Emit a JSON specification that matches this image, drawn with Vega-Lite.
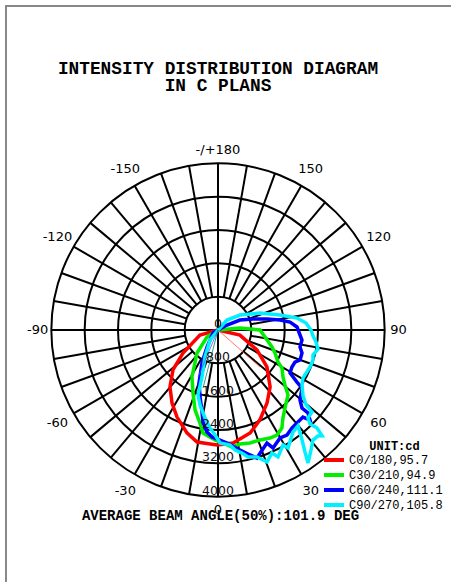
{
 "$schema": "https://vega.github.io/schema/vega-lite/v6.json",
 "width": 451, "height": 582,
 "autosize": {"type": "none"},
 "padding": {"left": 6, "top": 6, "right": 0, "bottom": 0},
 "background": "white",
 "config": {
  "view": {"stroke": "#888888", "strokeWidth": 2},
  "axis": {"domain": false, "ticks": false, "labels": false, "grid": false},
  "axisX": {"titleX": 214, "titleY": -68.5, "titleAlign": "center", "titleBaseline": "alphabetic", "titleFont": "Liberation Mono", "titleFontSize": 14, "titleFontWeight": "bold", "titleColor": "black", "titlePadding": 0},
  "axisY": {"titleX": 388, "titleY": 439, "titleAngle": 0, "titleAlign": "center", "titleBaseline": "middle", "titleFont": "Liberation Mono", "titleFontSize": 12, "titleFontWeight": "bold", "titleColor": "black", "titlePadding": 0}
 },
 "title": {"text": ["INTENSITY DISTRIBUTION DIAGRAM", "IN C PLANS"], "font": "Liberation Mono", "fontSize": 17.8, "fontWeight": "bold", "color": "black", "anchor": "middle", "dx": -13.5, "offset": -103, "lineHeight": 17, "baseline": "alphabetic"},
 "datasets": {
  "rings": [{"v": 0}, {"v": 800}, {"v": 1600}, {"v": 2400}, {"v": 3200}, {"v": 4000}],
  "spokes": [{"a": -170}, {"a": -160}, {"a": -150}, {"a": -140}, {"a": -130}, {"a": -120}, {"a": -110}, {"a": -100}, {"a": -90}, {"a": -80}, {"a": -70}, {"a": -60}, {"a": -50}, {"a": -40}, {"a": -30}, {"a": -20}, {"a": -10}, {"a": 0}, {"a": 10}, {"a": 20}, {"a": 30}, {"a": 40}, {"a": 50}, {"a": 60}, {"a": 70}, {"a": 80}, {"a": 90}, {"a": 100}, {"a": 110}, {"a": 120}, {"a": 130}, {"a": 140}, {"a": 150}, {"a": 160}, {"a": 170}, {"a": 180}],
  "cross": [{"a": 0}, {"a": 90}],
  "alabels": [{"t": "-/+180", "a": 180}, {"t": "150", "a": 150}, {"t": "120", "a": 120}, {"t": "90", "a": 90}, {"t": "60", "a": 60}, {"t": "30", "a": 30}, {"t": "0", "a": 0}, {"t": "-30", "a": -30}, {"t": "-60", "a": -60}, {"t": "-90", "a": -90}, {"t": "-120", "a": -120}, {"t": "-150", "a": -150}],
  "thin": [
   {"t": "tr", "i": 0, "g": 48.6, "cd": 0}, {"t": "tr", "i": 1, "g": 48.6, "cd": 1344},
   {"t": "tb", "i": 0, "g": -23, "cd": 0}, {"t": "tb", "i": 1, "g": -23, "cd": 1227},
   {"t": "tt", "i": 0, "g": -14.5, "cd": 0}, {"t": "tt", "i": 1, "g": -14.5, "cd": 1437}
  ],
  "curves": [
   {"p": "C0/180,95.7", "i": 0, "g": -80, "cd": 0},
   {"p": "C0/180,95.7", "i": 1, "g": -74.5, "cd": 450},
   {"p": "C0/180,95.7", "i": 2, "g": -56.7, "cd": 1005},
   {"p": "C0/180,95.7", "i": 3, "g": -48.4, "cd": 1445},
   {"p": "C0/180,95.7", "i": 4, "g": -40.1, "cd": 1790},
   {"p": "C0/180,95.7", "i": 5, "g": -32.2, "cd": 2070},
   {"p": "C0/180,95.7", "i": 6, "g": -25.2, "cd": 2310},
   {"p": "C0/180,95.7", "i": 7, "g": -16.8, "cd": 2580},
   {"p": "C0/180,95.7", "i": 8, "g": -10.6, "cd": 2735},
   {"p": "C0/180,95.7", "i": 9, "g": -0.5, "cd": 2760},
   {"p": "C0/180,95.7", "i": 10, "g": 7.6, "cd": 2735},
   {"p": "C0/180,95.7", "i": 11, "g": 17.3, "cd": 2590},
   {"p": "C0/180,95.7", "i": 12, "g": 25, "cd": 2380},
   {"p": "C0/180,95.7", "i": 13, "g": 33.9, "cd": 2110},
   {"p": "C0/180,95.7", "i": 14, "g": 42.4, "cd": 1855},
   {"p": "C0/180,95.7", "i": 15, "g": 53, "cd": 1470},
   {"p": "C0/180,95.7", "i": 16, "g": 62.9, "cd": 1050},
   {"p": "C0/180,95.7", "i": 17, "g": 77, "cd": 540},
   {"p": "C0/180,95.7", "i": 18, "g": 85, "cd": 0},
   {"p": "C30/210,94.9", "i": 0, "g": -60, "cd": 0},
   {"p": "C30/210,94.9", "i": 1, "g": -57.5, "cd": 313},
   {"p": "C30/210,94.9", "i": 2, "g": -42.4, "cd": 747},
   {"p": "C30/210,94.9", "i": 3, "g": -29.0, "cd": 1289},
   {"p": "C30/210,94.9", "i": 4, "g": -21.6, "cd": 1627},
   {"p": "C30/210,94.9", "i": 5, "g": -16.0, "cd": 1997},
   {"p": "C30/210,94.9", "i": 6, "g": -11.0, "cd": 2273},
   {"p": "C30/210,94.9", "i": 7, "g": -8.3, "cd": 2498},
   {"p": "C30/210,94.9", "i": 8, "g": -1.6, "cd": 2640},
   {"p": "C30/210,94.9", "i": 9, "g": 2.5, "cd": 2715},
   {"p": "C30/210,94.9", "i": 10, "g": 6.8, "cd": 2828},
   {"p": "C30/210,94.9", "i": 11, "g": 10.9, "cd": 2786},
   {"p": "C30/210,94.9", "i": 12, "g": 15.8, "cd": 2818},
   {"p": "C30/210,94.9", "i": 13, "g": 20.9, "cd": 2826},
   {"p": "C30/210,94.9", "i": 14, "g": 25.7, "cd": 2877},
   {"p": "C30/210,94.9", "i": 15, "g": 29.3, "cd": 2890},
   {"p": "C30/210,94.9", "i": 16, "g": 33.1, "cd": 2808},
   {"p": "C30/210,94.9", "i": 17, "g": 36.4, "cd": 2626},
   {"p": "C30/210,94.9", "i": 18, "g": 40.7, "cd": 2467},
   {"p": "C30/210,94.9", "i": 19, "g": 47.1, "cd": 2293},
   {"p": "C30/210,94.9", "i": 20, "g": 50.6, "cd": 2081},
   {"p": "C30/210,94.9", "i": 21, "g": 54.1, "cd": 1925},
   {"p": "C30/210,94.9", "i": 22, "g": 59.3, "cd": 1786},
   {"p": "C30/210,94.9", "i": 23, "g": 61.9, "cd": 1632},
   {"p": "C30/210,94.9", "i": 24, "g": 68.0, "cd": 1475},
   {"p": "C30/210,94.9", "i": 25, "g": 72.5, "cd": 1358},
   {"p": "C30/210,94.9", "i": 26, "g": 81.5, "cd": 1140},
   {"p": "C30/210,94.9", "i": 27, "g": 90, "cd": 1008},
   {"p": "C30/210,94.9", "i": 28, "g": 95.2, "cd": 530},
   {"p": "C30/210,94.9", "i": 29, "g": 100, "cd": 0},
   {"p": "C60/240,111.1", "i": 0, "g": -60, "cd": 0},
   {"p": "C60/240,111.1", "i": 1, "g": -59, "cd": 140},
   {"p": "C60/240,111.1", "i": 2, "g": -32.9, "cd": 486},
   {"p": "C60/240,111.1", "i": 3, "g": -25.9, "cd": 880},
   {"p": "C60/240,111.1", "i": 4, "g": -19.7, "cd": 1351},
   {"p": "C60/240,111.1", "i": 5, "g": -15.0, "cd": 1665},
   {"p": "C60/240,111.1", "i": 6, "g": -11.0, "cd": 2005},
   {"p": "C60/240,111.1", "i": 7, "g": -9.3, "cd": 2237},
   {"p": "C60/240,111.1", "i": 8, "g": -6.2, "cd": 2462},
   {"p": "C60/240,111.1", "i": 9, "g": -3.2, "cd": 2572},
   {"p": "C60/240,111.1", "i": 10, "g": 4.6, "cd": 2720},
   {"p": "C60/240,111.1", "i": 11, "g": 10.4, "cd": 2928},
   {"p": "C60/240,111.1", "i": 12, "g": 14.4, "cd": 3096},
   {"p": "C60/240,111.1", "i": 13, "g": 16.9, "cd": 3211},
   {"p": "C60/240,111.1", "i": 14, "g": 23.4, "cd": 2956},
   {"p": "C60/240,111.1", "i": 15, "g": 25.0, "cd": 3124},
   {"p": "C60/240,111.1", "i": 16, "g": 29.9, "cd": 2989},
   {"p": "C60/240,111.1", "i": 17, "g": 33.3, "cd": 3015},
   {"p": "C60/240,111.1", "i": 18, "g": 37.1, "cd": 2947},
   {"p": "C60/240,111.1", "i": 19, "g": 41.0, "cd": 2926},
   {"p": "C60/240,111.1", "i": 20, "g": 44.3, "cd": 2919},
   {"p": "C60/240,111.1", "i": 21, "g": 45.6, "cd": 3089},
   {"p": "C60/240,111.1", "i": 22, "g": 47.3, "cd": 2938},
   {"p": "C60/240,111.1", "i": 23, "g": 47.1, "cd": 2751},
   {"p": "C60/240,111.1", "i": 24, "g": 49.5, "cd": 2587},
   {"p": "C60/240,111.1", "i": 25, "g": 55.4, "cd": 2450},
   {"p": "C60/240,111.1", "i": 26, "g": 56.6, "cd": 2270},
   {"p": "C60/240,111.1", "i": 27, "g": 59.2, "cd": 2013},
   {"p": "C60/240,111.1", "i": 28, "g": 63.4, "cd": 1985},
   {"p": "C60/240,111.1", "i": 29, "g": 67.4, "cd": 2001},
   {"p": "C60/240,111.1", "i": 30, "g": 69.9, "cd": 2096},
   {"p": "C60/240,111.1", "i": 31, "g": 74.7, "cd": 2090},
   {"p": "C60/240,111.1", "i": 32, "g": 78.3, "cd": 2010},
   {"p": "C60/240,111.1", "i": 33, "g": 83.2, "cd": 2030},
   {"p": "C60/240,111.1", "i": 34, "g": 86.5, "cd": 1972},
   {"p": "C60/240,111.1", "i": 35, "g": 92.2, "cd": 1897},
   {"p": "C60/240,111.1", "i": 36, "g": 96.3, "cd": 1739},
   {"p": "C60/240,111.1", "i": 37, "g": 99.2, "cd": 1507},
   {"p": "C60/240,111.1", "i": 38, "g": 102.7, "cd": 1205},
   {"p": "C60/240,111.1", "i": 39, "g": 107.4, "cd": 880},
   {"p": "C60/240,111.1", "i": 40, "g": 114.4, "cd": 580},
   {"p": "C60/240,111.1", "i": 41, "g": 119.1, "cd": 247},
   {"p": "C60/240,111.1", "i": 42, "g": 120, "cd": 0},
   {"p": "C90/270,105.8", "i": 0, "g": -40, "cd": 0},
   {"p": "C90/270,105.8", "i": 1, "g": -38.7, "cd": 307},
   {"p": "C90/270,105.8", "i": 2, "g": -25.7, "cd": 719},
   {"p": "C90/270,105.8", "i": 3, "g": -18.8, "cd": 1191},
   {"p": "C90/270,105.8", "i": 4, "g": -17.1, "cd": 1632},
   {"p": "C90/270,105.8", "i": 5, "g": -13.5, "cd": 1851},
   {"p": "C90/270,105.8", "i": 6, "g": -8.4, "cd": 2135},
   {"p": "C90/270,105.8", "i": 7, "g": -4.7, "cd": 2359},
   {"p": "C90/270,105.8", "i": 8, "g": -1.6, "cd": 2520},
   {"p": "C90/270,105.8", "i": 9, "g": 1.0, "cd": 2712},
   {"p": "C90/270,105.8", "i": 10, "g": 6.0, "cd": 2775},
   {"p": "C90/270,105.8", "i": 11, "g": 8.1, "cd": 2909},
   {"p": "C90/270,105.8", "i": 12, "g": 11.0, "cd": 3008},
   {"p": "C90/270,105.8", "i": 13, "g": 13.3, "cd": 3132},
   {"p": "C90/270,105.8", "i": 14, "g": 17.1, "cd": 3189},
   {"p": "C90/270,105.8", "i": 15, "g": 19.1, "cd": 3302},
   {"p": "C90/270,105.8", "i": 16, "g": 20.4, "cd": 3379},
   {"p": "C90/270,105.8", "i": 17, "g": 23.7, "cd": 3224},
   {"p": "C90/270,105.8", "i": 18, "g": 25.3, "cd": 3371},
   {"p": "C90/270,105.8", "i": 19, "g": 29.5, "cd": 3170},
   {"p": "C90/270,105.8", "i": 20, "g": 30.7, "cd": 3293},
   {"p": "C90/270,105.8", "i": 21, "g": 36.3, "cd": 3038},
   {"p": "C90/270,105.8", "i": 22, "g": 39.8, "cd": 2999},
   {"p": "C90/270,105.8", "i": 23, "g": 37.4, "cd": 3322},
   {"p": "C90/270,105.8", "i": 24, "g": 35.5, "cd": 3596},
   {"p": "C90/270,105.8", "i": 25, "g": 34.1, "cd": 3854},
   {"p": "C90/270,105.8", "i": 26, "g": 37.8, "cd": 3643},
   {"p": "C90/270,105.8", "i": 27, "g": 40.8, "cd": 3488},
   {"p": "C90/270,105.8", "i": 28, "g": 43.3, "cd": 3497},
   {"p": "C90/270,105.8", "i": 29, "g": 44.5, "cd": 3564},
   {"p": "C90/270,105.8", "i": 30, "g": 45.3, "cd": 3343},
   {"p": "C90/270,105.8", "i": 31, "g": 44.4, "cd": 3157},
   {"p": "C90/270,105.8", "i": 32, "g": 45.6, "cd": 3021},
   {"p": "C90/270,105.8", "i": 33, "g": 48.9, "cd": 2993},
   {"p": "C90/270,105.8", "i": 34, "g": 49.6, "cd": 2775},
   {"p": "C90/270,105.8", "i": 35, "g": 52.2, "cd": 2583},
   {"p": "C90/270,105.8", "i": 36, "g": 56.8, "cd": 2410},
   {"p": "C90/270,105.8", "i": 37, "g": 60.5, "cd": 2343},
   {"p": "C90/270,105.8", "i": 38, "g": 68.1, "cd": 2380},
   {"p": "C90/270,105.8", "i": 39, "g": 72.5, "cd": 2391},
   {"p": "C90/270,105.8", "i": 40, "g": 75.3, "cd": 2357},
   {"p": "C90/270,105.8", "i": 41, "g": 79.2, "cd": 2443},
   {"p": "C90/270,105.8", "i": 42, "g": 83.0, "cd": 2369},
   {"p": "C90/270,105.8", "i": 43, "g": 86.4, "cd": 2285},
   {"p": "C90/270,105.8", "i": 44, "g": 90, "cd": 2232},
   {"p": "C90/270,105.8", "i": 45, "g": 94.5, "cd": 2119},
   {"p": "C90/270,105.8", "i": 46, "g": 98.6, "cd": 1918},
   {"p": "C90/270,105.8", "i": 47, "g": 103.6, "cd": 1531},
   {"p": "C90/270,105.8", "i": 48, "g": 112.0, "cd": 1087},
   {"p": "C90/270,105.8", "i": 49, "g": 124.3, "cd": 639},
   {"p": "C90/270,105.8", "i": 50, "g": 138, "cd": 323},
   {"p": "C90/270,105.8", "i": 51, "g": 140, "cd": 0}
  ]
 },
 "layer": [
  {
   "data": {"name": "rings"},
   "transform": [{"filter": "datum.v > 0"}, {"calculate": "0", "as": "c"}],
   "mark": {"type": "arc", "theta": 0, "theta2": 6.2832, "fill": "white", "fillOpacity": 0, "stroke": "black", "strokeWidth": 2},
   "encoding": {
    "x": {"field": "c", "type": "quantitative", "scale": {"domain": [-5088, 5736], "nice": false, "zero": false}, "title": "AVERAGE BEAM ANGLE(50%):101.9 DEG"},
    "y": {"field": "c", "type": "quantitative", "scale": {"domain": [-6192, 7776], "nice": false, "zero": false}, "title": "UNIT:cd"},
    "radius": {"field": "v", "type": "quantitative", "stack": null, "scale": {"type": "linear", "domain": [0, 4000], "range": [0, 166.67], "zero": true, "nice": false}}
   }
  },
  {
   "data": {"name": "spokes"},
   "transform": [
    {"calculate": "800*sin(datum.a*PI/180)", "as": "x1"},
    {"calculate": "-800*cos(datum.a*PI/180)", "as": "y1"},
    {"calculate": "4000*sin(datum.a*PI/180)", "as": "x2"},
    {"calculate": "-4000*cos(datum.a*PI/180)", "as": "y2"}
   ],
   "mark": {"type": "rule", "stroke": "black", "strokeWidth": 2},
   "encoding": {
    "x": {"field": "x1", "type": "quantitative", "scale": {"domain": [-5088, 5736], "nice": false, "zero": false}, "title": "AVERAGE BEAM ANGLE(50%):101.9 DEG"},
    "y": {"field": "y1", "type": "quantitative", "scale": {"domain": [-6192, 7776], "nice": false, "zero": false}, "title": "UNIT:cd"},
    "x2": {"field": "x2"},
    "y2": {"field": "y2"}
   }
  },
  {
   "data": {"name": "cross"},
   "transform": [
    {"calculate": "4000*sin(datum.a*PI/180)", "as": "ex"},
    {"calculate": "-4000*cos(datum.a*PI/180)", "as": "ey"},
    {"calculate": "-datum.ex", "as": "nx"},
    {"calculate": "-datum.ey", "as": "ny"}
   ],
   "mark": {"type": "rule", "stroke": "black", "strokeWidth": 2},
   "encoding": {
    "x": {"field": "nx", "type": "quantitative", "scale": {"domain": [-5088, 5736], "nice": false, "zero": false}, "title": "AVERAGE BEAM ANGLE(50%):101.9 DEG"},
    "y": {"field": "ny", "type": "quantitative", "scale": {"domain": [-6192, 7776], "nice": false, "zero": false}, "title": "UNIT:cd"},
    "x2": {"field": "ex"},
    "y2": {"field": "ey"}
   }
  },
  {
   "data": {"name": "curves"},
   "transform": [
    {"calculate": "datum.cd*sin(datum.g*PI/180)", "as": "x"},
    {"calculate": "-datum.cd*cos(datum.g*PI/180)", "as": "y"}
   ],
   "mark": {"type": "line", "strokeWidth": 3.5},
   "encoding": {
    "x": {"field": "x", "type": "quantitative", "scale": {"domain": [-5088, 5736], "nice": false, "zero": false}, "title": "AVERAGE BEAM ANGLE(50%):101.9 DEG"},
    "y": {"field": "y", "type": "quantitative", "scale": {"domain": [-6192, 7776], "nice": false, "zero": false}, "title": "UNIT:cd"},
    "order": {"field": "i", "type": "quantitative"},
    "color": {
     "field": "p", "type": "nominal",
     "scale": {"domain": ["C0/180,95.7", "C30/210,94.9", "C60/240,111.1", "C90/270,105.8"], "range": ["#ff0000", "#00ee00", "#0000ff", "#00f0ff"]},
     "legend": {"title": null, "orient": "none", "legendX": 316, "legendY": 446.5, "symbolType": "stroke", "symbolSize": 400, "symbolStrokeWidth": 4, "labelFont": "Liberation Mono", "labelFontSize": 12, "labelColor": "black", "labelOffset": 3, "clipHeight": 15, "rowPadding": 0, "padding": 0}
    }
   }
  },
  {
   "data": {"name": "thin"},
   "transform": [
    {"calculate": "datum.cd*sin(datum.g*PI/180)", "as": "x"},
    {"calculate": "-datum.cd*cos(datum.g*PI/180)", "as": "y"}
   ],
   "mark": {"type": "line", "strokeWidth": 0.8},
   "encoding": {
    "x": {"field": "x", "type": "quantitative", "scale": {"domain": [-5088, 5736], "nice": false, "zero": false}, "title": "AVERAGE BEAM ANGLE(50%):101.9 DEG"},
    "y": {"field": "y", "type": "quantitative", "scale": {"domain": [-6192, 7776], "nice": false, "zero": false}, "title": "UNIT:cd"},
    "order": {"field": "i", "type": "quantitative"},
    "stroke": {"field": "t", "type": "nominal", "scale": {"domain": ["tr", "tb", "tt"], "range": ["#ff5050", "#5050ff", "#008080"]}, "legend": null}
   }
  },
  {
   "data": {"name": "rings"},
   "transform": [{"calculate": "0", "as": "c"}, {"calculate": "-datum.v", "as": "ly"}],
   "mark": {"type": "text", "font": "DejaVu Sans", "fontSize": 12.5, "baseline": "alphabetic", "align": "center", "dy": -2, "color": "#111111"},
   "encoding": {
    "x": {"field": "c", "type": "quantitative", "scale": {"domain": [-5088, 5736], "nice": false, "zero": false}, "title": "AVERAGE BEAM ANGLE(50%):101.9 DEG"},
    "y": {"field": "ly", "type": "quantitative", "scale": {"domain": [-6192, 7776], "nice": false, "zero": false}, "title": "UNIT:cd"},
    "text": {"field": "v", "type": "quantitative", "format": "d"}
   }
  },
  {
   "data": {"name": "alabels"},
   "transform": [
    {"filter": "datum.a % 90 == 0"},
    {"calculate": "4330*sin(datum.a*PI/180)", "as": "lx"},
    {"calculate": "-4330*cos(datum.a*PI/180)", "as": "ly"}
   ],
   "mark": {"type": "text", "font": "DejaVu Sans", "fontSize": 13, "baseline": "middle", "align": "center", "color": "black"},
   "encoding": {
    "x": {"field": "lx", "type": "quantitative", "scale": {"domain": [-5088, 5736], "nice": false, "zero": false}, "title": "AVERAGE BEAM ANGLE(50%):101.9 DEG"},
    "y": {"field": "ly", "type": "quantitative", "scale": {"domain": [-6192, 7776], "nice": false, "zero": false}, "title": "UNIT:cd"},
    "text": {"field": "t", "type": "nominal"}
   }
  },
  {
   "data": {"name": "alabels"},
   "transform": [
    {"filter": "datum.a % 90 != 0"},
    {"calculate": "4450*sin(datum.a*PI/180)", "as": "lx"},
    {"calculate": "-4450*cos(datum.a*PI/180)", "as": "ly"}
   ],
   "mark": {"type": "text", "font": "DejaVu Sans", "fontSize": 13, "baseline": "middle", "align": "center", "color": "black"},
   "encoding": {
    "x": {"field": "lx", "type": "quantitative", "scale": {"domain": [-5088, 5736], "nice": false, "zero": false}, "title": "AVERAGE BEAM ANGLE(50%):101.9 DEG"},
    "y": {"field": "ly", "type": "quantitative", "scale": {"domain": [-6192, 7776], "nice": false, "zero": false}, "title": "UNIT:cd"},
    "text": {"field": "t", "type": "nominal"}
   }
  }
 ]
}
